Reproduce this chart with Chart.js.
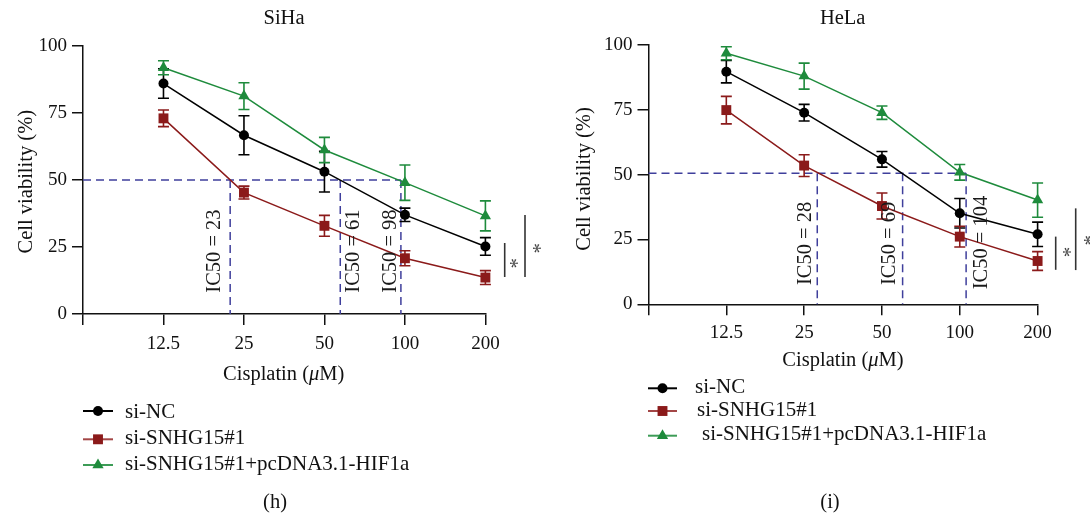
<!DOCTYPE html>
<html><head><meta charset="utf-8">
<script src="https://cdn.jsdelivr.net/npm/chart.js@4.4.1/dist/chart.umd.min.js"></script>
<style>
html,body{margin:0;padding:0;background:#fff;}
body{width:1090px;height:517px;overflow:hidden;position:relative;}
canvas{position:absolute;top:0;}
#c1{left:0;} #c2{left:550px;}
</style></head>
<body>
<canvas id="c1" width="550" height="517"></canvas>
<canvas id="c2" width="540" height="517"></canvas>
<script>
// ---------- data ----------
const doses = [12.5, 25, 50, 100, 200];
const xTicks = [6.25, 12.5, 25, 50, 100, 200];
const yTicks = [0, 25, 50, 75, 100];
const seriesNames = ['si-NC', 'si-SNHG15#1', 'si-SNHG15#1+pcDNA3.1-HIF1a'];
const panelTitles = ['SiHa', 'HeLa'];
const panelLabels = ['(h)', '(i)'];
const xTitle = ['Cisplatin (', 'μ', 'M)'];
const yTitle = 'Cell viability (%)';

// SiHa
const sihaNC = [86.0, 66.7, 53.1, 37.0, 25.2];
const sihaNCErr = [5.5, 7.3, 7.6, 2.5, 3.3];
const sihaKD = [73.0, 45.3, 32.9, 20.8, 13.6];
const sihaKDErr = [3.1, 2.4, 3.9, 2.8, 2.6];
const sihaHIF = [91.9, 81.3, 61.2, 49.0, 36.6];
const sihaHIFErr = [2.6, 5.0, 4.7, 6.6, 5.6];
const sihaIC50At = [22.2, 57.3, 96.6];
const sihaIC50Level = 50;
const sihaIC50Text = ['IC50 = 23', 'IC50 = 61', 'IC50 = 98'];
const sihaSig = [[13.8, 26.5], [13.8, 36.9]];

// HeLa
const helaNC = [89.7, 73.9, 55.9, 35.1, 27.0];
const helaNCErr = [4.3, 3.2, 3.0, 5.7, 4.7];
const helaKD = [74.9, 53.5, 37.9, 26.1, 16.7];
const helaKDErr = [5.3, 4.2, 5.0, 4.0, 3.6];
const helaHIF = [96.8, 88.0, 73.9, 50.9, 40.2];
const helaHIFErr = [2.5, 5.0, 2.6, 3.0, 6.6];
const helaIC50At = [28.1, 60.1, 105.8];
const helaIC50Level = 50.5;
const helaIC50Text = ['IC50 = 28', 'IC50 = 69', 'IC50 = 104'];
const helaSig = [[13.3, 26.1], [13.2, 37.0]];

// ---------- styles ----------
const SERIF = '"Liberation Serif", "Times New Roman", serif';
const colors = ['#000000', '#8b1a1a', '#1e8b3c'];
const legendLineColors = ['#000000', '#a34646', '#3d9c57'];
const pointStyles = ['circle', 'rect', 'triangle'];
const pointRadii = [5, 7, 6.5];
const dashColor = '#3f3f9c';

Chart.defaults.color = '#111';
Chart.defaults.font.family = SERIF;

function drawMarker(ctx, style, x, y, r, color) {
  ctx.save();
  ctx.fillStyle = color;
  ctx.beginPath();
  if (style === 'circle') { ctx.arc(x, y, r, 0, Math.PI * 2); }
  else if (style === 'rect') { const s = r * Math.SQRT1_2; ctx.rect(x - s, y - s, 2 * s, 2 * s); }
  else {
    ctx.moveTo(x, y - r);
    ctx.lineTo(x + r * Math.sin(2 * Math.PI / 3), y - r * Math.cos(2 * Math.PI / 3));
    ctx.lineTo(x + r * Math.sin(4 * Math.PI / 3), y - r * Math.cos(4 * Math.PI / 3));
    ctx.closePath();
  }
  ctx.fill();
  ctx.restore();
}

function rotText(ctx, text, x, y, font, align) {
  ctx.save();
  ctx.font = font;
  ctx.translate(x, y);
  ctx.rotate(-Math.PI / 2);
  ctx.textAlign = align;
  ctx.textBaseline = 'alphabetic';
  ctx.fillText(text, 0, 0);
  ctx.restore();
}

function starAt(ctx, cx, cy, font, color) {
  ctx.save();
  ctx.font = font;
  ctx.fillStyle = color;
  const m = ctx.measureText('*');
  ctx.translate(cx, cy);
  ctx.rotate(-Math.PI / 2);
  ctx.textAlign = 'left';
  ctx.textBaseline = 'alphabetic';
  const gx = (m.actualBoundingBoxRight - m.actualBoundingBoxLeft) / 2;
  const gy = (m.actualBoundingBoxDescent - m.actualBoundingBoxAscent) / 2;
  ctx.fillText('*', -gx, -gy);
  ctx.restore();
}

function makePlugin(L) {
  return {
    id: 'extras',
    beforeDatasetsDraw(chart) {
      const ctx = chart.ctx, x = chart.scales.x, y = chart.scales.y;
      // IC50 guide lines
      ctx.save();
      ctx.strokeStyle = dashColor; ctx.lineWidth = 1.5; ctx.setLineDash([8, 5]);
      const yl = y.getPixelForValue(L.icLevel), y0 = y.getPixelForValue(0);
      const xs = L.icAt.map(v => x.getPixelForValue(v));
      ctx.beginPath();
      ctx.moveTo(x.left, yl); ctx.lineTo(Math.max(...xs), yl);
      xs.forEach(px => { ctx.moveTo(px, yl); ctx.lineTo(px, y0); });
      ctx.stroke();
      ctx.restore();
      // error bars
      chart.data.datasets.forEach((ds, i) => {
        const errs = L.errors[i];
        ctx.save();
        ctx.strokeStyle = colors[i]; ctx.lineWidth = 1.6;
        ds.data.forEach((p, j) => {
          const px = x.getPixelForValue(p.x);
          const t = y.getPixelForValue(p.y + errs[j]), b = y.getPixelForValue(p.y - errs[j]);
          ctx.beginPath();
          ctx.moveTo(px, t); ctx.lineTo(px, b);
          ctx.moveTo(px - 5.5, t); ctx.lineTo(px + 5.5, t);
          ctx.moveTo(px - 5.5, b); ctx.lineTo(px + 5.5, b);
          ctx.stroke();
        });
        ctx.restore();
      });
    },
    afterDraw(chart) {
      const ctx = chart.ctx, x = chart.scales.x, y = chart.scales.y;
      const F = '20.5px ' + SERIF;
      ctx.save();
      ctx.fillStyle = '#111';
      // title
      ctx.font = F; ctx.textAlign = 'center'; ctx.textBaseline = 'alphabetic';
      ctx.fillText(L.title, L.titlePos[0], L.titlePos[1]);
      // y title
      rotText(ctx, yTitle, L.yTitlePos[0], L.yTitlePos[1], F, 'center');
      // x title with italic mu
      const fonts = [F, 'italic ' + F, F];
      let widths = xTitle.map((t, k) => { ctx.font = fonts[k]; return ctx.measureText(t).width; });
      let tot = widths.reduce((a, b) => a + b, 0);
      let cx = L.xTitlePos[0] - tot / 2;
      ctx.textAlign = 'left';
      xTitle.forEach((t, k) => { ctx.font = fonts[k]; ctx.fillText(t, cx, L.xTitlePos[1]); cx += widths[k]; });
      // IC50 labels
      ctx.fillStyle = '#1a1a1a';
      L.icAt.forEach((v, k) => {
        const px = x.getPixelForValue(v) + L.icTextDx[k];
        rotText(ctx, L.icText[k], px, L.icTextBottom[k], F, 'left');
      });
      // significance brackets
      ctx.strokeStyle = '#333'; ctx.lineWidth = 1.6;
      L.sig.forEach((s, k) => {
        const px = x.right + L.sigDx[k];
        ctx.beginPath();
        ctx.moveTo(px, y.getPixelForValue(s[1]));
        ctx.lineTo(px, y.getPixelForValue(s[0]));
        ctx.stroke();
        starAt(ctx, px + L.starDx[k], L.starY[k], '21px ' + SERIF, '#444');
      });
      // legend
      const LF = '21px ' + SERIF;
      seriesNames.forEach((n, k) => {
        const my = L.legMarkY[k];
        ctx.save();
        ctx.strokeStyle = legendLineColors[k]; ctx.lineWidth = 2;
        ctx.beginPath(); ctx.moveTo(L.legLine[0], my); ctx.lineTo(L.legLine[1], my); ctx.stroke();
        ctx.restore();
        drawMarker(ctx, pointStyles[k], (L.legLine[0] + L.legLine[1]) / 2, my, pointRadii[k], colors[k]);
        ctx.fillStyle = '#111'; ctx.font = LF; ctx.textAlign = 'left';
        ctx.fillText(n, L.legTextX[k], L.legTextY[k]);
      });
      // panel label
      ctx.font = F; ctx.textAlign = 'center';
      ctx.fillText(L.panel, L.panelPos[0], L.panelPos[1]);
      ctx.restore();
    }
  };
}

function makeChart(id, series, L) {
  const canvas = document.getElementById(id);
  const W = canvas.width, H = canvas.height;
  const XH = 40;
  return new Chart(canvas, {
    type: 'line',
    data: {
      datasets: series.map((vals, i) => ({
        label: seriesNames[i],
        data: doses.map((d, j) => ({ x: d, y: vals[j] })),
        borderColor: colors[i],
        backgroundColor: colors[i],
        borderWidth: 1.5,
        pointStyle: pointStyles[i],
        pointRadius: pointRadii[i],
        pointBorderWidth: 0,
        pointBackgroundColor: colors[i],
        tension: 0,
        fill: false,
        clip: false
      }))
    },
    options: {
      responsive: false,
      animation: false,
      events: [],
      layout: { padding: { left: 0, top: L.area.top, right: W - L.area.right, bottom: H - L.area.bottom - XH } },
      plugins: { legend: { display: false }, title: { display: false }, tooltip: { enabled: false } },
      scales: {
        x: {
          type: 'logarithmic', min: 6.25, max: 200,
          afterBuildTicks: s => { s.ticks = xTicks.map(v => ({ value: v })); },
          afterFit: s => { s.height = XH; },
          ticks: { callback: v => (v === 6.25 ? '' : String(v)), font: { size: 19, family: SERIF }, color: '#111', padding: L.xTickPad, maxRotation: 0, autoSkip: false },
          grid: { display: true, drawOnChartArea: false, drawTicks: true, tickLength: 11, color: '#111', lineWidth: 1.5 },
          border: { display: true, color: '#111', width: 1.5 }
        },
        y: {
          type: 'linear', min: 0, max: 100,
          afterBuildTicks: s => { s.ticks = yTicks.map(v => ({ value: v })); },
          afterFit: s => { s.width = L.area.left; },
          ticks: { font: { size: 19, family: SERIF }, color: '#111', padding: 5 },
          grid: { display: true, drawOnChartArea: false, drawTicks: true, tickLength: 11, color: '#111', lineWidth: 1.5 },
          border: { display: true, color: '#111', width: 1.5 }
        }
      }
    },
    plugins: [makePlugin(L)]
  });
}

makeChart('c1', [sihaNC, sihaKD, sihaHIF], {
  area: { left: 83, right: 485.4, top: 46, bottom: 314 },
  xTickPad: 8,
  title: panelTitles[0], titlePos: [284, 23.5],
  yTitlePos: [31.5, 181.7], xTitlePos: [283.7, 380],
  errors: [sihaNCErr, sihaKDErr, sihaHIFErr],
  icAt: sihaIC50At, icLevel: sihaIC50Level, icText: sihaIC50Text,
  icTextDx: [-9.8, 18.3, -5.2], icTextBottom: [292.7, 292.7, 292.7],
  sig: sihaSig, sigDx: [19.3, 39.6], starDx: [9.5, 12], starY: [263, 248],
  legLine: [83, 113], legMarkY: [411, 439.3, 465], legTextX: [125, 125, 125], legTextY: [418.3, 444.3, 470],
  panel: panelLabels[0], panelPos: [275, 508]
});

makeChart('c2', [helaNC, helaKD, helaHIF], {
  area: { left: 98.5, right: 487.6, top: 45, bottom: 304.3 },
  xTickPad: 6,
  title: panelTitles[1], titlePos: [292.7, 23.5],
  yTitlePos: [39.6, 179], xTitlePos: [293, 366],
  errors: [helaNCErr, helaKDErr, helaHIFErr],
  icAt: helaIC50At, icLevel: helaIC50Level, icText: helaIC50Text,
  icTextDx: [-5.9, -7.9, 21], icTextBottom: [285, 285, 289.3],
  sig: helaSig, sigDx: [18.1, 38.1], starDx: [11, 12.3], starY: [251.7, 240],
  legLine: [98, 127], legMarkY: [388.3, 411, 435.7], legTextX: [145, 147, 152], legTextY: [393.3, 416, 440],
  panel: panelLabels[1], panelPos: [280, 508]
});
</script>
</body></html>
